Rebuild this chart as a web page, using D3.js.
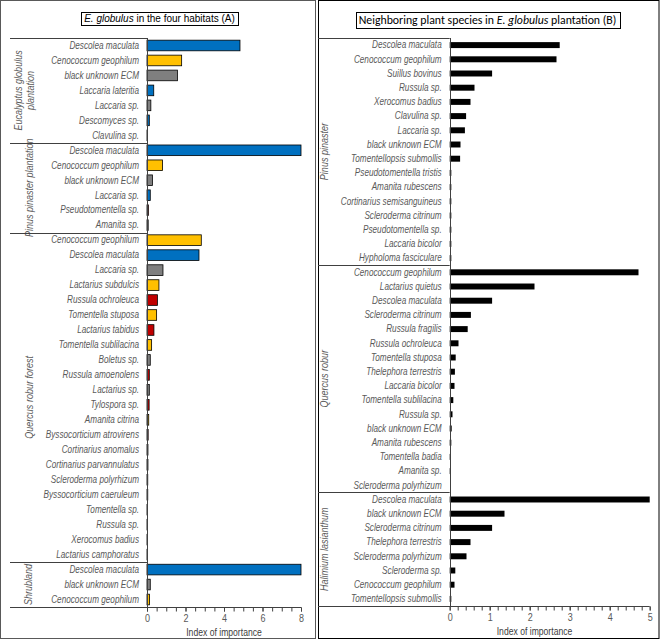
<!DOCTYPE html>
<html>
<head>
<meta charset="utf-8">
<script src="https://cdn.jsdelivr.net/npm/d3@7"></script>
<style>
  body { margin: 0; background: #fff; }
  text { font-family: 'Liberation Sans', Arial, sans-serif; }
</style>
</head>
<body>
<div id="app"></div>
<script>
// ---- data: panel A (E. globulus in the four habitats) ----
const habitatsA = [['Eucalyptus globulus', 'plantation'], ['Pinus pinaster plantation'], ['Quercus robur forest'], ['Shrubland']]

const eucSpecies = ['Descolea maculata', 'Cenococcum geophilum', 'black unknown ECM', 'Laccaria lateritia', 'Laccaria sp.', 'Descomyces sp.', 'Clavulina sp.']
const eucValues  = [4.83, 1.80, 1.58, 0.35, 0.20, 0.12, 0.01]
const eucTypes   = ['b', 'y', 'g', 'b', 'g', 'b', 'k']

const pinSpecies = ['Descolea maculata', 'Cenococcum geophilum', 'black unknown ECM', 'Laccaria sp.', 'Pseudotomentella sp.', 'Amanita sp.']
const pinValues  = [8.0, 0.81, 0.28, 0.17, 0.07, 0.06]
const pinTypes   = ['b', 'y', 'g', 'b', 'r', 'k']

const querSpecies = ['Cenococcum geophilum', 'Descolea maculata', 'Laccaria sp.', 'Lactarius subdulcis', 'Russula ochroleuca', 'Tomentella stuposa',
  'Lactarius tabidus', 'Tomentella sublilacina', 'Boletus sp.', 'Russula amoenolens', 'Lactarius sp.', 'Tylospora sp.', 'Amanita citrina',
  'Byssocorticium atrovirens', 'Cortinarius anomalus', 'Cortinarius parvannulatus', 'Scleroderma polyrhizum', 'Byssocorticium caeruleum',
  'Tomentella sp.', 'Russula sp.', 'Xerocomus badius', 'Lactarius camphoratus']
const querValues = [2.82, 2.70, 0.83, 0.62, 0.54, 0.50, 0.36, 0.24, 0.17, 0.12, 0.12, 0.11, 0.09, 0.06, 0.05, 0.05, 0.04, 0.04, 0.03, 0.03, 0.02, 0.02]
const querTypes  = ['y', 'b', 'g', 'y', 'r', 'y', 'r', 'y', 'g', 'r', 'g', 'r', 'y', 'r', 'r', 'r', 'k', 'k', 'k', 'k', 'k', 'k']

const shrubSpecies = ['Descolea maculata', 'black unknown ECM', 'Cenococcum geophilum']
const shrubValues  = [8.0, 0.17, 0.13]
const shrubTypes   = ['b', 'g', 'y']

const ticksA = [0, 2, 4, 6, 8]

// ---- data: panel B (neighboring plant species) ----
const plantsB = [['Pinus pinaster'], ['Quercus robur'], ['Halimium lasianthum']]

const ppSpecies = ['Descolea maculata', 'Cenococcum geophilum', 'Suillus bovinus', 'Russula sp.', 'Xerocomus badius', 'Clavulina sp.', 'Laccaria sp.',
  'black unknown ECM', 'Tomentellopsis submollis', 'Pseudotomentella tristis', 'Amanita rubescens', 'Cortinarius semisanguineus',
  'Scleroderma citrinum', 'Pseudotomentella sp.', 'Laccaria bicolor', 'Hypholoma fasciculare']
const ppValues  = [2.75, 2.67, 1.06, 0.62, 0.52, 0.41, 0.38, 0.27, 0.26, 0.04, 0.04, 0.04, 0.04, 0.04, 0.04, 0.04]

const qrSpecies = ['Cenococcum geophilum', 'Lactarius quietus', 'Descolea maculata', 'Scleroderma citrinum', 'Russula fragilis', 'Russula ochroleuca',
  'Tomentella stuposa', 'Thelephora terrestris', 'Laccaria bicolor', 'Tomentella sublilacina', 'Russula sp.', 'black unknown ECM',
  'Amanita rubescens', 'Tomentella badia', 'Amanita sp.', 'Scleroderma polyrhizum']
const qrValues  = [4.72, 2.12, 1.06, 0.53, 0.45, 0.22, 0.15, 0.13, 0.12, 0.09, 0.07, 0.05, 0.04, 0.03, 0.03, 0]

const hlSpecies = ['Descolea maculata', 'black unknown ECM', 'Scleroderma citrinum', 'Thelephora terrestris', 'Scleroderma polyrhizum',
  'Scleroderma sp.', 'Cenococcum geophilum', 'Tomentellopsis submollis']
const hlValues  = [5.0, 1.37, 1.06, 0.52, 0.42, 0.14, 0.12, 0.04]

const ticksB = [0, 1, 2, 3, 4, 5]

// 颜色
const typeColor = d3.scaleOrdinal()
  .domain(['b', 'y', 'g', 'r', 'k'])
  .range(['#0070C0', '#FFC000', '#7F7F7F', '#C00000', '#000000'])

// narrow font look (Arial Narrow isn't available) -> squeeze Liberation Sans
const NARROW = 'scale(0.82, 1)'

const svg = d3.select('#app')
              .append('svg')
                .attr('width', 660)
                .attr('height', 640)

// panel frames
svg.append('rect')
  .attr('x', 0.5).attr('y', 0.5).attr('width', 315).attr('height', 638)
  .attr('fill', 'none').attr('stroke', '#595959')
svg.append('rect')
  .attr('x', 318.5).attr('y', 0.5).attr('width', 340.5).attr('height', 638)
  .attr('fill', 'none').attr('stroke', '#000')

function boxedTitle(x, y, parts, font, size) {
  const g = svg.append('g')
  const t = g.append('text')
    .attr('x', x).attr('y', y)
    .attr('text-anchor', 'middle')
    .attr('dominant-baseline', 'central')
    .style('font-family', font)
    .style('font-size', size + 'px')
    .attr('fill', '#000')
  parts.forEach(p => t.append('tspan').text(p[0]).style('font-style', p[1] ? 'italic' : 'normal'))
  const bb = t.node().getBBox()
  g.insert('rect', 'text')
    .attr('x', Math.round(bb.x - 3) + 0.5).attr('y', Math.round(bb.y - 1) + 0.5)
    .attr('width', Math.round(bb.width + 6)).attr('height', Math.round(bb.height + 2))
    .attr('fill', 'none').attr('stroke', '#000')
}

function drawPanel(p) {
  const rows = p.groups.flatMap((g, gi) => g.species.map((s, i) => ({
    key: gi + '|' + s, name: s, value: g.values[i], type: g.types ? g.types[i] : 'k'
  })))

  const yScale = d3.scaleBand()
                  .domain(rows.map(d => d.key))
                  .range([p.top, p.bottom])
                  .paddingInner(p.pad)
                  .paddingOuter(p.pad / 2)
  const xScale = d3.scaleLinear()
                  .domain([0, p.max])
                  .range([p.zero, p.right])

  const g = svg.append('g')

  // bars
  g.selectAll('.bar')
    .data(rows)
    .join('rect')
      .classed('bar', true)
      .attr('x', xScale(0))
      .attr('y', d => yScale(d.key))
      .attr('width', d => xScale(d.value) - xScale(0))
      .attr('height', yScale.bandwidth())
      .attr('fill', d => p.color(d.type))
      .attr('stroke', p.stroke ? '#000' : 'none')
      .attr('stroke-width', 0.8)

  // species labels
  g.selectAll('.lab')
    .data(rows)
    .join('text')
      .classed('lab', true)
      .attr('transform', d => `translate(${p.zero - 8}, ${yScale(d.key) + yScale.bandwidth() / 2}) ${NARROW}`)
      .attr('text-anchor', 'end')
      .attr('dominant-baseline', 'central')
      .style('font-style', 'italic')
      .style('font-size', '10px')
      .attr('fill', '#595959')
      .text(d => d.name)

  // group separators and rotated group names
  const step = yScale.step()
  let start = 0
  p.groups.forEach((grp, gi) => {
    const y0 = p.top + start * step
    const y1 = y0 + grp.species.length * step
    g.append('line')
      .attr('x1', p.boxLeft).attr('x2', p.zero)
      .attr('y1', Math.round(y0) + 0.5).attr('y2', Math.round(y0) + 0.5)
      .attr('stroke', '#404040')
    const t = g.append('text')
      .attr('transform', `translate(${p.labelX[gi]}, ${(y0 + y1) / 2}) rotate(-90) ${NARROW}`)
      .attr('text-anchor', 'middle')
      .style('font-style', 'italic')
      .style('font-size', '11px')
      .attr('fill', '#595959')
    const n = grp.name.length
    grp.name.forEach((line, li) => {
      t.append('tspan')
        .attr('x', 0)
        .attr('y', (li - (n - 1) / 2) * 12)
        .attr('dy', '0.35em')
        .text(line)
    })
    start += grp.species.length
  })

  // y axis line + bottom line
  g.append('line')
    .attr('x1', Math.round(p.zero) + 0.5).attr('x2', Math.round(p.zero) + 0.5)
    .attr('y1', p.top).attr('y2', p.bottom)
    .attr('stroke', '#404040')
  g.append('line')
    .attr('x1', p.boxLeft).attr('x2', p.right)
    .attr('y1', Math.round(p.bottom) + 0.5).attr('y2', Math.round(p.bottom) + 0.5)
    .attr('stroke', '#404040')

  // x axis: minor + major ticks
  const axisG = g.append('g').attr('transform', `translate(0, ${Math.round(p.bottom) + 0.5})`)
  axisG.append('g')
    .call(d3.axisBottom(xScale).tickValues(d3.range(0, p.max + 1e-9, p.minor)).tickSize(4).tickFormat(''))
  axisG.append('g')
    .call(d3.axisBottom(xScale).tickValues(p.ticks).tickSize(4).tickPadding(3).tickFormat(d3.format('d')))
  axisG.selectAll('.domain').remove()
  axisG.selectAll('line').attr('stroke', '#404040')
  axisG.selectAll('text')
    .attr('transform', NARROW)
    .style('font-family', "'Liberation Sans', sans-serif")
    .style('font-size', '11px')
    .attr('fill', '#595959')

  g.append('text')
    .attr('transform', `translate(${p.titleX}, ${p.bottom + 25}) ${NARROW}`)
    .attr('text-anchor', 'middle')
    .attr('dominant-baseline', 'central')
    .style('font-size', '10.5px')
    .attr('fill', '#404040')
    .text('Index of importance')
}

// panel A
boxedTitle(159.5, 18, [['E. globulus', true], [' in the four habitats (A)', false]], "'Liberation Sans', Arial, sans-serif", 10)
drawPanel({
  groups: [
    {name: habitatsA[0], species: eucSpecies, values: eucValues, types: eucTypes},
    {name: habitatsA[1], species: pinSpecies, values: pinValues, types: pinTypes},
    {name: habitatsA[2], species: querSpecies, values: querValues, types: querTypes},
    {name: habitatsA[3], species: shrubSpecies, values: shrubValues, types: shrubTypes}
  ],
  top: 38, bottom: 607, pad: 0.29,
  zero: 147, right: 301, max: 8, ticks: ticksA, minor: 0.5,
  boxLeft: 10, labelX: [24, 29, 29, 28], titleX: 224,
  color: typeColor, stroke: true
})

// panel B
boxedTitle(487.5, 20, [['Neighboring plant species in ', false], ['E. globulus', true], [' plantation (B)', false]], "Carlito, Lato, 'Open Sans', sans-serif", 11.8)
drawPanel({
  groups: [
    {name: plantsB[0], species: ppSpecies, values: ppValues},
    {name: plantsB[1], species: qrSpecies, values: qrValues},
    {name: plantsB[2], species: hlSpecies, values: hlValues}
  ],
  top: 38, bottom: 606, pad: 0.58,
  zero: 449.7, right: 649.7, max: 5, ticks: ticksB, minor: 0.2,
  boxLeft: 318, labelX: [324, 324, 324], titleX: 534.5,
  color: () => '#000', stroke: false
})
</script>
</body>
</html>
